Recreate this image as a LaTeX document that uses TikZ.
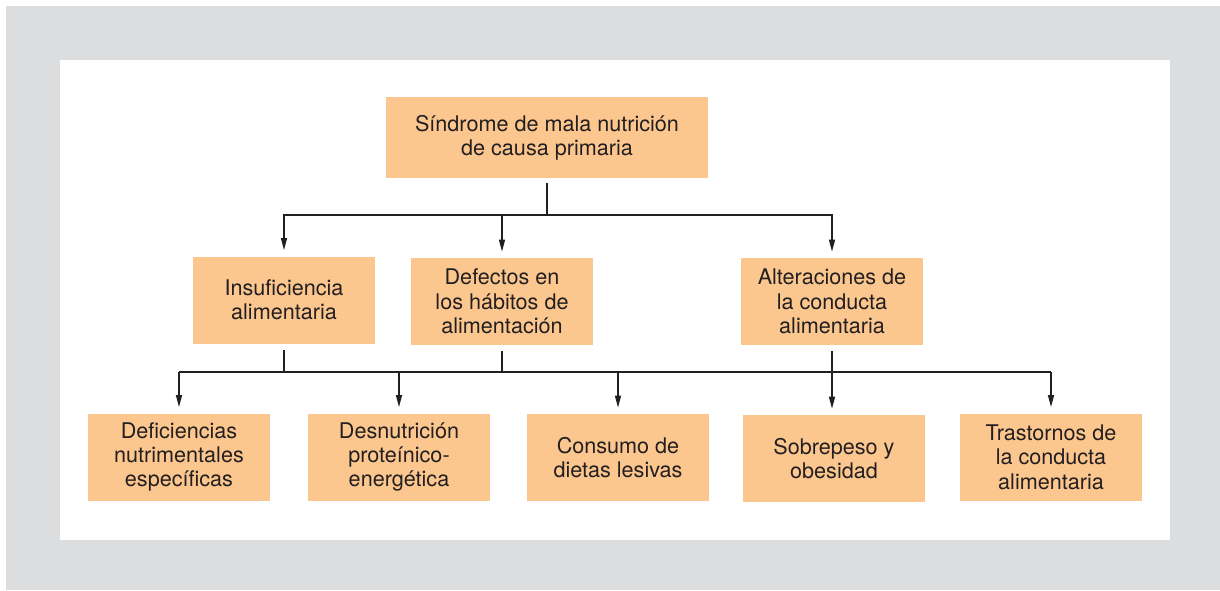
\documentclass[tikz,border=0pt]{standalone}
\usepackage{fontspec}
\setmainfont{TeX Gyre Heros}
\usetikzlibrary{arrows.meta}
\definecolor{naranja}{RGB}{252,199,142}
\definecolor{marco}{RGB}{220,221,223}
\definecolor{tinta}{RGB}{35,31,32}

\begin{document}
\begin{tikzpicture}[x=0.5pt,y=-0.5pt,
    caja/.style={fill=naranja, text=tinta, align=center, inner sep=0pt,
      minimum width=91pt, minimum height=43.5pt, font=\fontsize{10.8}{12.2}\selectfont},
    linea/.style={draw=tinta, line width=0.7pt},
    flecha/.style={linea, -{Triangle[length=6pt,width=3pt]}, shorten >=3pt}]
      \useasboundingbox (0,0) rectangle (1220,590);
      \fill[marco] (6,6) rectangle (1220,590);
      \fill[white] (60,60) rectangle (1170,540);

      % nivel 1
      \node[caja, minimum width=161pt, minimum height=40.5pt] (sind) at (547,137.5)
        {S\'indrome de mala nutrici\'on\\de causa primaria};
      % nivel 2
      \node[caja] (insu) at (284,300) {Insuficiencia\\alimentaria};
      \node[caja] (defe) at (502,301.5) {Defectos en\\los h\'abitos de\\alimentaci\'on};
      \node[caja] (alte) at (832,301.5) {Alteraciones de\\la conducta\\alimentaria};
      % nivel 3
      \node[caja] (defi) at (179,457) {Deficiencias\\nutrimentales\\espec\'ificas};
      \node[caja] (desn) at (399,457) {Desnutrici\'on\\prote\'inico-\\energ\'etica};
      \node[caja] (cons) at (618,457.5) {Consumo de\\dietas lesivas};
      \node[caja] (sobr) at (834,458.5) {Sobrepeso y\\obesidad};
      \node[caja] (tras) at (1051,457) {Trastornos de\\la conducta\\alimentaria};

      \coordinate (ramaA) at (547,215);
      \coordinate (ramaB) at (502,372);

      \draw[linea, shorten <=2.5pt] (sind) -- (ramaA);
      \foreach \n in {insu,defe,alte}{
        \draw[flecha] (ramaA) -| (\n.north);
      }
      \draw[linea, shorten <=3pt] (insu) -- (insu.south |- ramaB);
      \draw[linea, shorten <=3pt] (defe) -- (ramaB);
      \draw[linea] (defi.north |- ramaB) -- (tras.north |- ramaB);
      \foreach \n in {defi,desn,cons,tras}{
        \draw[flecha] (\n.north |- ramaB) -- (\n.north);
      }
      \draw[flecha, shorten <=3pt] (alte.south) -- (alte.south |- sobr.north);
\end{tikzpicture}
\end{document}
